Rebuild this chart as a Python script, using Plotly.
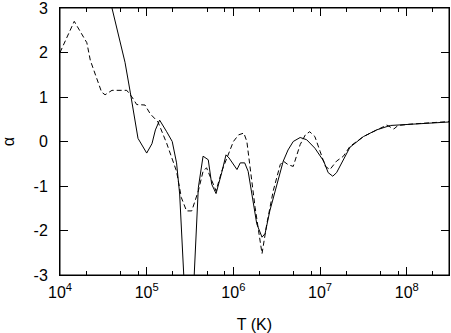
import plotly.graph_objects as go

# solid curve
t_solid = [3.55e4, 3.98e4, 5.62e4, 6.46e4, 7.94e4, 1.00e5, 1.15e5, 1.26e5, 1.41e5, 1.70e5,
           1.97e5, 2.21e5, 2.40e5, 3.09e5, 3.94e5, 4.47e5, 5.13e5, 5.62e5, 6.31e5, 7.33e5,
           8.22e5, 8.91e5, 1.10e6, 1.20e6, 1.35e6, 1.48e6, 1.62e6, 1.86e6, 2.14e6, 2.32e6,
           2.63e6, 3.16e6, 3.76e6, 4.27e6, 4.90e6, 5.89e6, 7.00e6, 8.71e6, 1.10e7, 1.24e7,
           1.40e7, 1.55e7, 1.86e7, 2.21e7, 3.16e7, 4.47e7, 6.46e7, 1.10e8, 1.86e8, 3.16e8]
a_solid = [3.40, 3.00, 1.78, 1.11, 0.07, -0.26, -0.05, 0.26, 0.48, 0.22,
           0.00, -0.48, -1.18, -5.40, -1.04, -0.33, -0.41, -0.96, -1.17, -0.70,
           -0.30, -0.37, -0.63, -0.48, -0.48, -0.67, -1.11, -1.85, -2.15, -2.07,
           -1.56, -0.96, -0.44, -0.19, 0.00, 0.09, 0.04, -0.15, -0.44, -0.70,
           -0.78, -0.70, -0.41, -0.13, 0.11, 0.26, 0.36, 0.39, 0.41, 0.44]

# dashed curve
t_dash = [1.00e4, 1.46e4, 2.04e4, 2.24e4, 3.02e4, 3.31e4, 3.98e4, 5.89e4, 6.76e4, 7.67e4,
          9.55e4, 1.10e5, 1.35e5, 1.70e5, 2.21e5, 2.51e5, 2.88e5, 3.31e5, 3.94e5, 4.47e5,
          4.90e5, 5.62e5, 6.31e5, 7.33e5, 8.71e5, 1.00e6, 1.15e6, 1.32e6, 1.43e6, 1.55e6,
          1.78e6, 1.95e6, 2.14e6, 2.43e6, 2.88e6, 3.47e6, 3.76e6, 4.27e6, 4.90e6, 5.89e6,
          6.76e6, 7.59e6, 8.71e6, 1.00e7, 1.15e7, 1.30e7, 1.55e7, 1.86e7, 2.21e7, 3.16e7,
          4.47e7, 5.37e7, 5.89e7, 7.08e7, 7.94e7, 1.10e8, 1.86e8, 3.16e8]
a_dash = [2.00, 2.70, 2.22, 1.82, 1.11, 1.05, 1.15, 1.15, 1.00, 0.83,
          0.82, 0.62, 0.44, -0.04, -0.67, -1.26, -1.56, -1.56, -1.11, -0.67,
          -0.59, -0.89, -1.11, -0.67, -0.30, 0.00, 0.15, 0.19, 0.00, -0.59,
          -1.48, -2.00, -2.52, -1.85, -1.11, -0.52, -0.44, -0.52, -0.56, -0.07,
          0.15, 0.22, 0.11, -0.22, -0.56, -0.63, -0.44, -0.33, -0.11, 0.11,
          0.26, 0.33, 0.37, 0.28, 0.36, 0.39, 0.42, 0.45]

x_ticks = [1e4, 1e5, 1e6, 1e7, 1e8]
x_labels = ["10<sup>4</sup>", "10<sup>5</sup>", "10<sup>6</sup>", "10<sup>7</sup>", "10<sup>8</sup>"]
x_minor = [m * 10 ** e for e in range(4, 9) for m in (2, 5, 8)]
y_ticks = [-3, -2, -1, 0, 1, 2, 3]
y_labels = ["-3", "-2", "-1", "0", "1", "2", "3"]

font = dict(family="Liberation Sans, Arial", size=16, color="black")

fig = go.Figure()
fig.add_trace(go.Scatter(x=t_solid, y=a_solid, mode="lines",
                         line=dict(color="black", width=1)))
fig.add_trace(go.Scatter(x=t_dash, y=a_dash, mode="lines",
                         line=dict(color="black", width=1, dash="5px,3px")))

axis_style = dict(showline=True, linecolor="black", linewidth=1, mirror="allticks",
                  ticks="inside", tickcolor="black", ticklen=8, tickwidth=1,
                  showgrid=False, zeroline=False, automargin=False,
                  ticklabeloverflow="allow", tickfont=font)

fig.update_xaxes(type="log", range=[4, 8.487], tickmode="array",
                 tickvals=x_ticks, ticktext=x_labels, ticklabelstandoff=3,
                 minor=dict(tickmode="array", tickvals=x_minor, ticks="inside",
                            ticklen=4, tickcolor="black", showgrid=False),
                 title=dict(text="T (K)", standoff=20, font=font),
                 **axis_style)
fig.update_yaxes(range=[-3, 3], tickmode="array", tickvals=y_ticks, ticktext=y_labels,
                 ticklabelstandoff=8,
                 title=dict(text="α", standoff=20, font=font),
                 **axis_style)

fig.update_layout(width=451, height=333, showlegend=False,
                  margin=dict(l=60, r=2, t=8, b=58),
                  plot_bgcolor="white", paper_bgcolor="white")

# frame around the plot area
fig.add_shape(type="rect", xref="paper", yref="paper", x0=0, y0=0, x1=1, y1=1,
              layer="above", line=dict(color="black", width=1))

# drop the default body margin and outline the plot background as a fallback frame
js = ("document.body.style.margin='0';"
      "document.querySelectorAll('.bg').forEach(function(r){"
      "r.style.stroke='black';r.style.strokeWidth='1px';});")
fig.write_html("out.html", config={"displayModeBar": False}, post_script=js)
